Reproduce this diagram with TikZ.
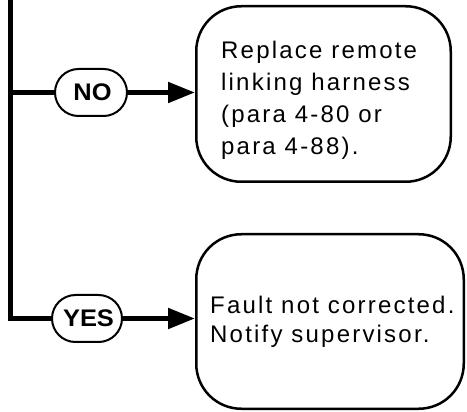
\documentclass[tikz,border=0pt]{standalone}
\usepackage{fontspec}
\setmainfont{Liberation Sans}
\newfontfamily\boxfont[LetterSpace=9.2]{Liberation Sans}
\newfontfamily\labfont[FakeStretch=1.06]{Liberation Sans}
\usetikzlibrary{arrows.meta}
\newcommand{\lab}[1]{\hspace*{3pt}\raisebox{-2pt}{#1}}
\begin{document}
\begin{tikzpicture}[x=1pt,y=-1pt,
  box/.style={draw, line width=2.5pt, rounded corners=45pt, inner sep=0pt},
  pill/.style={draw, line width=2pt, rounded corners=23.5pt, minimum height=47pt, inner sep=0pt, font=\labfont\bfseries\fontsize{24}{24}\selectfont},
  txt/.style={inner sep=0pt, anchor=north west, align=left},
  flow/.style={line width=5pt},
  arr/.style={flow, -{Triangle[length=27pt,width=20pt]}}]
\useasboundingbox (0,0) rectangle (467,412);
\node[box, minimum width=254.5pt, minimum height=175.5pt] (box1) at (323.5,94) {};
\node[box, minimum width=267.5pt, minimum height=174.5pt] (box2) at (330,321.5) {};
\node[txt, font=\boxfont\fontsize{24}{32}\selectfont] (t1) at (221,40.8) {Replace remote\\linking harness\\(para 4-80 or\\para 4-88).};
\node[txt, font=\boxfont\fontsize{24}{28.4}\selectfont] (t2) at (210,296.2) {Fault not corrected.\\Notify supervisor.};
\node[pill, minimum width=72pt] (no) at (91,92.5) {\lab{NO}};
\node[pill, minimum width=70pt] (yes) at (87,318.5) {\lab{YES}};
\coordinate (top) at (10,-5);
\coordinate (corner) at (10,318.5);
\coordinate (jn) at (10,92.5);
\draw[flow] (top) -- (corner) -- (corner -| yes.west);
\draw[flow] (jn) -- (no.west);
\draw[arr] (no.east) -- (no.east -| box1.west);
\draw[arr] (yes.east) -- (yes.east -| box2.west);
\end{tikzpicture}
\end{document}
